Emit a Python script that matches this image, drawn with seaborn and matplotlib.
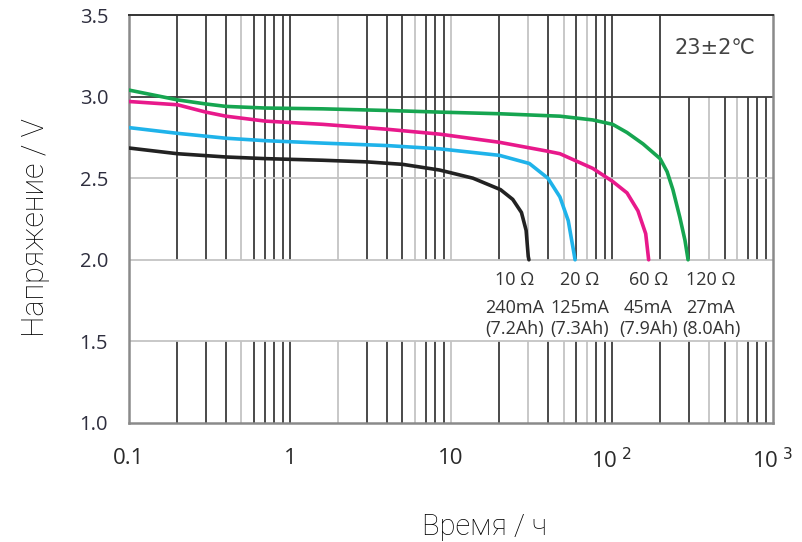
import numpy as np
import pandas as pd
import matplotlib
matplotlib.use("Agg")
import matplotlib.pyplot as plt
import seaborn as sns

# discharge curves (time in h, voltage in V)
t_10 = [0.1, 0.2, 0.4, 0.7, 1.6, 3, 5, 8.5, 13.7, 20.3, 24.2, 27.4, 29.3, 30.2, 30.5]
v_10 = [2.685, 2.65, 2.63, 2.62, 2.61, 2.60, 2.585, 2.55, 2.50, 2.43, 2.37, 2.29, 2.18, 2.02, 2.0]

t_20 = [0.1, 0.2, 0.4, 0.7, 1.6, 4, 8.5, 20, 30.7, 40, 47.5, 53.5, 57.6, 59]
v_20 = [2.81, 2.775, 2.745, 2.73, 2.715, 2.70, 2.68, 2.64, 2.59, 2.50, 2.385, 2.24, 2.06, 2.0]

t_60 = [0.1, 0.2, 0.3, 0.4, 0.7, 1.6, 4, 8.5, 20, 40, 47.5, 76, 101, 124, 145, 162, 169]
v_60 = [2.97, 2.95, 2.905, 2.88, 2.85, 2.83, 2.80, 2.77, 2.72, 2.665, 2.65, 2.56, 2.48, 2.41, 2.30, 2.16, 2.0]

t_120 = [0.1, 0.2, 0.3, 0.4, 0.7, 1.6, 4, 8.5, 20, 47.5, 76, 101, 124, 156, 199, 220, 239, 264, 284, 297]
v_120 = [3.04, 2.98, 2.955, 2.94, 2.93, 2.925, 2.915, 2.905, 2.895, 2.88, 2.857, 2.83, 2.78, 2.71,
         2.62, 2.54, 2.43, 2.26, 2.12, 2.0]

loads = ["10 Ω", "20 Ω", "60 Ω", "120 Ω"]
currents = ["240mA", "125mA", "45mA", "27mA"]
capacities = ["(7.2Ah)", "(7.3Ah)", "(7.9Ah)", "(8.0Ah)"]
colors = ["#222222", "#1fb3ea", "#e8198b", "#16a550"]

x_ticks = [0.1, 1, 10, 100, 1000]
x_ticklabels = ["0.1", "1", "10", r"10$^{\ 2}$", r"10$^{\ 3}$"]
y_ticks = [1.0, 1.5, 2.0, 2.5, 3.0, 3.5]

light_x = [0.5, 2, 6, 10, 30, 50, 70, 400, 600]

frames = []
for name, t, v in zip(loads, [t_10, t_20, t_60, t_120], [v_10, v_20, v_60, v_120]):
    frames.append(pd.DataFrame({"t": t, "v": v, "load": name}))
df = pd.concat(frames, ignore_index=True)

sns.set_style("white")
plt.rcParams["font.family"] = ["Open Sans", "DejaVu Sans"]

fig = plt.figure(figsize=(8.03, 5.42), dpi=100)
ax = fig.add_axes([0.1606, 0.2196, 0.802, 0.7527])
ax.set_xscale("log")
ax.set_xlim(0.1, 1000)
ax.set_ylim(1.0, 3.5)

# vertical grid, broken where the label band and temperature box sit
for dec in [0.1, 1, 10, 100]:
    for k in range(2, 11):
        x = dec * k
        if x >= 1000:
            continue
        c = "#c4c4c4" if any(abs(x - l) < 1e-9 for l in light_x) else "#3a3a3a"
        top = 3.0 if x > 200 else 3.5
        ax.vlines(x, 1.0, 1.5, color=c, lw=1.3, zorder=1)
        ax.vlines(x, 2.0, top, color=c, lw=1.3, zorder=1)

ax.axhline(3.0, color="#3a3a3a", lw=1.3, zorder=1)
for y in [1.5, 2.0, 2.5]:
    ax.axhline(y, color="#c4c4c4", lw=1.3, zorder=1)

sns.lineplot(data=df, x="t", y="v", hue="load", palette=dict(zip(loads, colors)),
             sort=False, estimator=None, lw=2.6, legend=False, ax=ax, zorder=3)
for line in ax.get_lines():
    line.set_solid_joinstyle("round")
ax.set_xlabel("")
ax.set_ylabel("")

xs = [25, 63, 168, 412]
for x, a, b, c in zip(xs, loads, currents, capacities):
    ax.text(x, 1.876, a, ha="center", va="center", fontsize=13, color="#333333")
    ax.text(x, 1.705, b, ha="center", va="center", fontsize=13, color="#333333")
    ax.text(x, 1.576, c, ha="center", va="center", fontsize=13, color="#333333")

ax.text(437, 3.30, "23±2℃", ha="center", va="center", fontsize=15, color="#444444",
        family=["DejaVu Sans", "Noto Sans CJK SC"])

ax.set_xticks(x_ticks)
ax.set_xticklabels(x_ticklabels)
ax.minorticks_off()
ax.set_yticks(y_ticks)
ax.set_yticklabels([f"{y:.1f}" for y in y_ticks])
ax.tick_params(axis="x", length=0, pad=18, labelsize=16, labelcolor="#2a2a2a")
ax.tick_params(axis="y", length=0, pad=15, labelsize=14.5, labelcolor="#2e2e3e")

for side in ["left", "right", "bottom"]:
    ax.spines[side].set_color("#8a8a8a")
    ax.spines[side].set_linewidth(1.8)
ax.spines["top"].set_color("#333333")
ax.spines["top"].set_linewidth(1.4)

fig.text(0.604, 0.028, "Время / ч", ha="center", va="center", fontsize=21,
         color="#000000", family=["Roboto", "DejaVu Sans"], weight="light")
fig.text(0.044, 0.58, "Напряжение / V", ha="center", va="center", rotation=90,
         fontsize=22, color="#000000", family=["Roboto", "DejaVu Sans"], weight="light")

fig.savefig("out.png", dpi=100)
